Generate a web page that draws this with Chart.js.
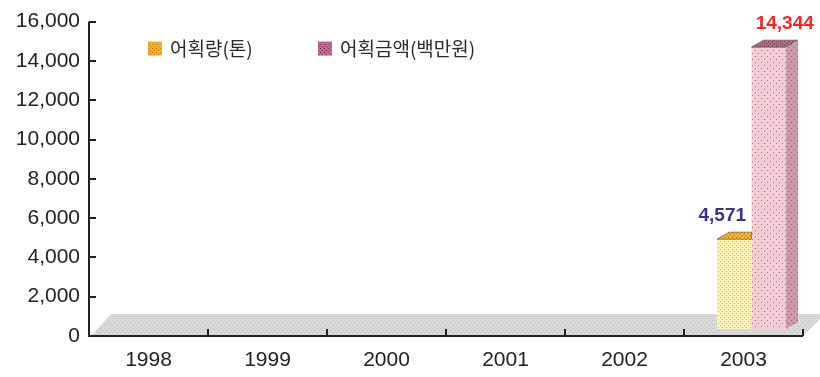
<!DOCTYPE html>
<html>
<head>
<meta charset="utf-8">
<script src="https://cdn.jsdelivr.net/npm/chart.js@4.4.1/dist/chart.umd.min.js"></script>
<style>
  html, body { margin: 0; padding: 0; background: #fff; }
  #wrap { width: 820px; height: 377px; }
</style>
</head>
<body>
<div id="wrap"><canvas id="c" width="820" height="377"></canvas></div>
<script>
// ---- data ----
var YEARS = ["1998", "1999", "2000", "2001", "2002", "2003"];
var CATCH_TON = [0, 0, 0, 0, 0, 4571];       // 어획량(톤)
var CATCH_VALUE = [0, 0, 0, 0, 0, 14344];    // 어획금액(백만원)
var SERIES = ["어획량(톤)", "어획금액(백만원)"];
var Y_MAX = 16000, Y_STEP = 2000;

var cv = document.getElementById("c");
var ctx = cv.getContext("2d");

// small dotted tiles, like the old print-style fills
function dots(bg, dot, size) {
  var t = document.createElement("canvas");
  t.width = t.height = size;
  var g = t.getContext("2d");
  g.fillStyle = bg; g.fillRect(0, 0, size, size);
  g.fillStyle = dot;
  g.fillRect(0, 0, 1, 1);
  g.fillRect(size / 2, size / 2, 1, 1);
  return ctx.createPattern(t, "repeat");
}

var FILL = {
  yellowFront: dots("#fdf2b6", "#e6c060", 4),
  yellowTop: dots("#f0b02c", "#c88010", 4),
  pinkFront: dots("#f2cdd6", "#b868c8", 6),
  pinkSide: dots("#cc9aa4", "#a86080", 6),
  pinkTop: dots("#a86c80", "#7c3c60", 4),
  floor: dots("#dadada", "#c0c0c0", 4)
};
var DX = 12, DY = -7;          // bar depth
var SHIFT_X = 8, SHIFT_Y = -7; // bars sit on the back of the floor
var FONT = "'Liberation Sans', Arial, sans-serif";

var deco = {
  id: "deco",
  beforeDatasetsDraw: function (chart) {
    var a = chart.chartArea, c = chart.ctx;
    // grey floor
    c.save();
    c.fillStyle = FILL.floor;
    c.beginPath();
    c.moveTo(a.left + 2, a.bottom);
    c.lineTo(a.left + 22, a.bottom - 22);
    c.lineTo(chart.width, a.bottom - 22);
    c.lineTo(chart.width, a.bottom - 17);
    c.lineTo(a.right, a.bottom);
    c.closePath();
    c.fill();
    c.restore();
    c.save();
    c.translate(SHIFT_X, SHIFT_Y);
  },
  afterDatasetsDraw: function (chart) {
    var c = chart.ctx, a = chart.chartArea;
    chart.data.datasets.forEach(function (ds, di) {
      var meta = chart.getDatasetMeta(di);
      meta.data.forEach(function (bar, i) {
        if (!ds.data[i]) return;
        var l = bar.x - bar.width / 2, r = bar.x + bar.width / 2, t = bar.y, b = bar.base;
        c.strokeStyle = "rgba(90,60,60,0.6)"; c.lineWidth = 1;
        c.beginPath();
        if (di === 0) {
          // top face, its right part hides behind the next bar
          c.fillStyle = FILL.yellowTop;
          c.moveTo(l, t); c.lineTo(l + DX, t + DY); c.lineTo(r, t + DY); c.lineTo(r, t);
        } else {
          c.fillStyle = FILL.pinkTop;
          c.moveTo(l, t); c.lineTo(l + DX, t + DY); c.lineTo(r + DX, t + DY); c.lineTo(r, t);
        }
        c.closePath(); c.fill(); c.stroke();
        if (di === 1) {
          c.fillStyle = FILL.pinkSide;
          c.beginPath();
          c.moveTo(r, t); c.lineTo(r + DX, t + DY); c.lineTo(r + DX, b + DY); c.lineTo(r, b);
          c.closePath(); c.fill();
        }
        // value label
        c.font = "bold 19px " + FONT;
        c.textAlign = "center"; c.textBaseline = "bottom";
        c.fillStyle = di === 0 ? "#33339a" : "#ff2020";
        c.fillText(ds.data[i].toLocaleString("en-US"), di === 0 ? bar.x - 12 : bar.x + 16, t - 14);
      });
    });
    c.restore();
    c.save();
    // axes lines and tick marks
    var ys = chart.scales.y, xs = chart.scales.x;
    c.strokeStyle = "#222"; c.lineWidth = 2;
    c.beginPath();
    c.moveTo(a.left, a.top); c.lineTo(a.left, a.bottom);
    c.lineTo(a.right, a.bottom);
    ys.ticks.forEach(function (tk) {
      var y = Math.round(ys.getPixelForValue(tk.value));
      c.moveTo(a.left, y); c.lineTo(a.left + 7, y);
    });
    for (var k = 0; k <= YEARS.length; k++) {
      var x = Math.round(xs.getPixelForValue(k - 0.5));
      c.moveTo(x, a.bottom); c.lineTo(x, a.bottom - 7);
    }
    c.stroke();
    // legend inside the plot
    var lx = [148, 318];
    var box = [FILL.yellowTop, dots("#c06a88", "#8c3c6c", 4)];
    c.font = "19px 'Noto Sans CJK KR', " + FONT;
    c.textAlign = "left"; c.textBaseline = "middle";
    SERIES.forEach(function (name, j) {
      c.fillStyle = box[j];
      c.fillRect(lx[j], a.top + 20, 14, 14);
      c.fillStyle = "#2a2a2a";
      c.fillText(name, lx[j] + 22, a.top + 27);
    });
    c.restore();
  }
};

new Chart(ctx, {
  type: "bar",
  data: {
    labels: YEARS,
    datasets: [
      { label: SERIES[0], data: CATCH_TON, backgroundColor: FILL.yellowFront, borderWidth: 0 },
      { label: SERIES[1], data: CATCH_VALUE, backgroundColor: FILL.pinkFront, borderWidth: 0 }
    ]
  },
  options: {
    responsive: false, animation: false, devicePixelRatio: 1,
    layout: { padding: { top: 18, right: 17, left: 0, bottom: 0 } },
    datasets: { bar: { categoryPercentage: 0.58, barPercentage: 1 } },
    plugins: { legend: { display: false }, tooltip: { enabled: false } },
    scales: {
      x: {
        grid: { display: false, drawTicks: false },
        border: { display: false },
        ticks: { color: "#222", padding: 12, font: { family: FONT, size: 21 } },
        afterFit: function (s) { s.height = 41; }
      },
      y: {
        min: 0, max: Y_MAX,
        grid: { display: false, drawTicks: false },
        border: { display: false },
        ticks: {
          stepSize: Y_STEP, color: "#222", padding: 9,
          font: { family: FONT, size: 21 },
          callback: function (v) { return v.toLocaleString("en-US"); }
        },
        afterFit: function (s) { s.width = 89; }
      }
    }
  },
  plugins: [deco]
});
</script>
</body>
</html>
